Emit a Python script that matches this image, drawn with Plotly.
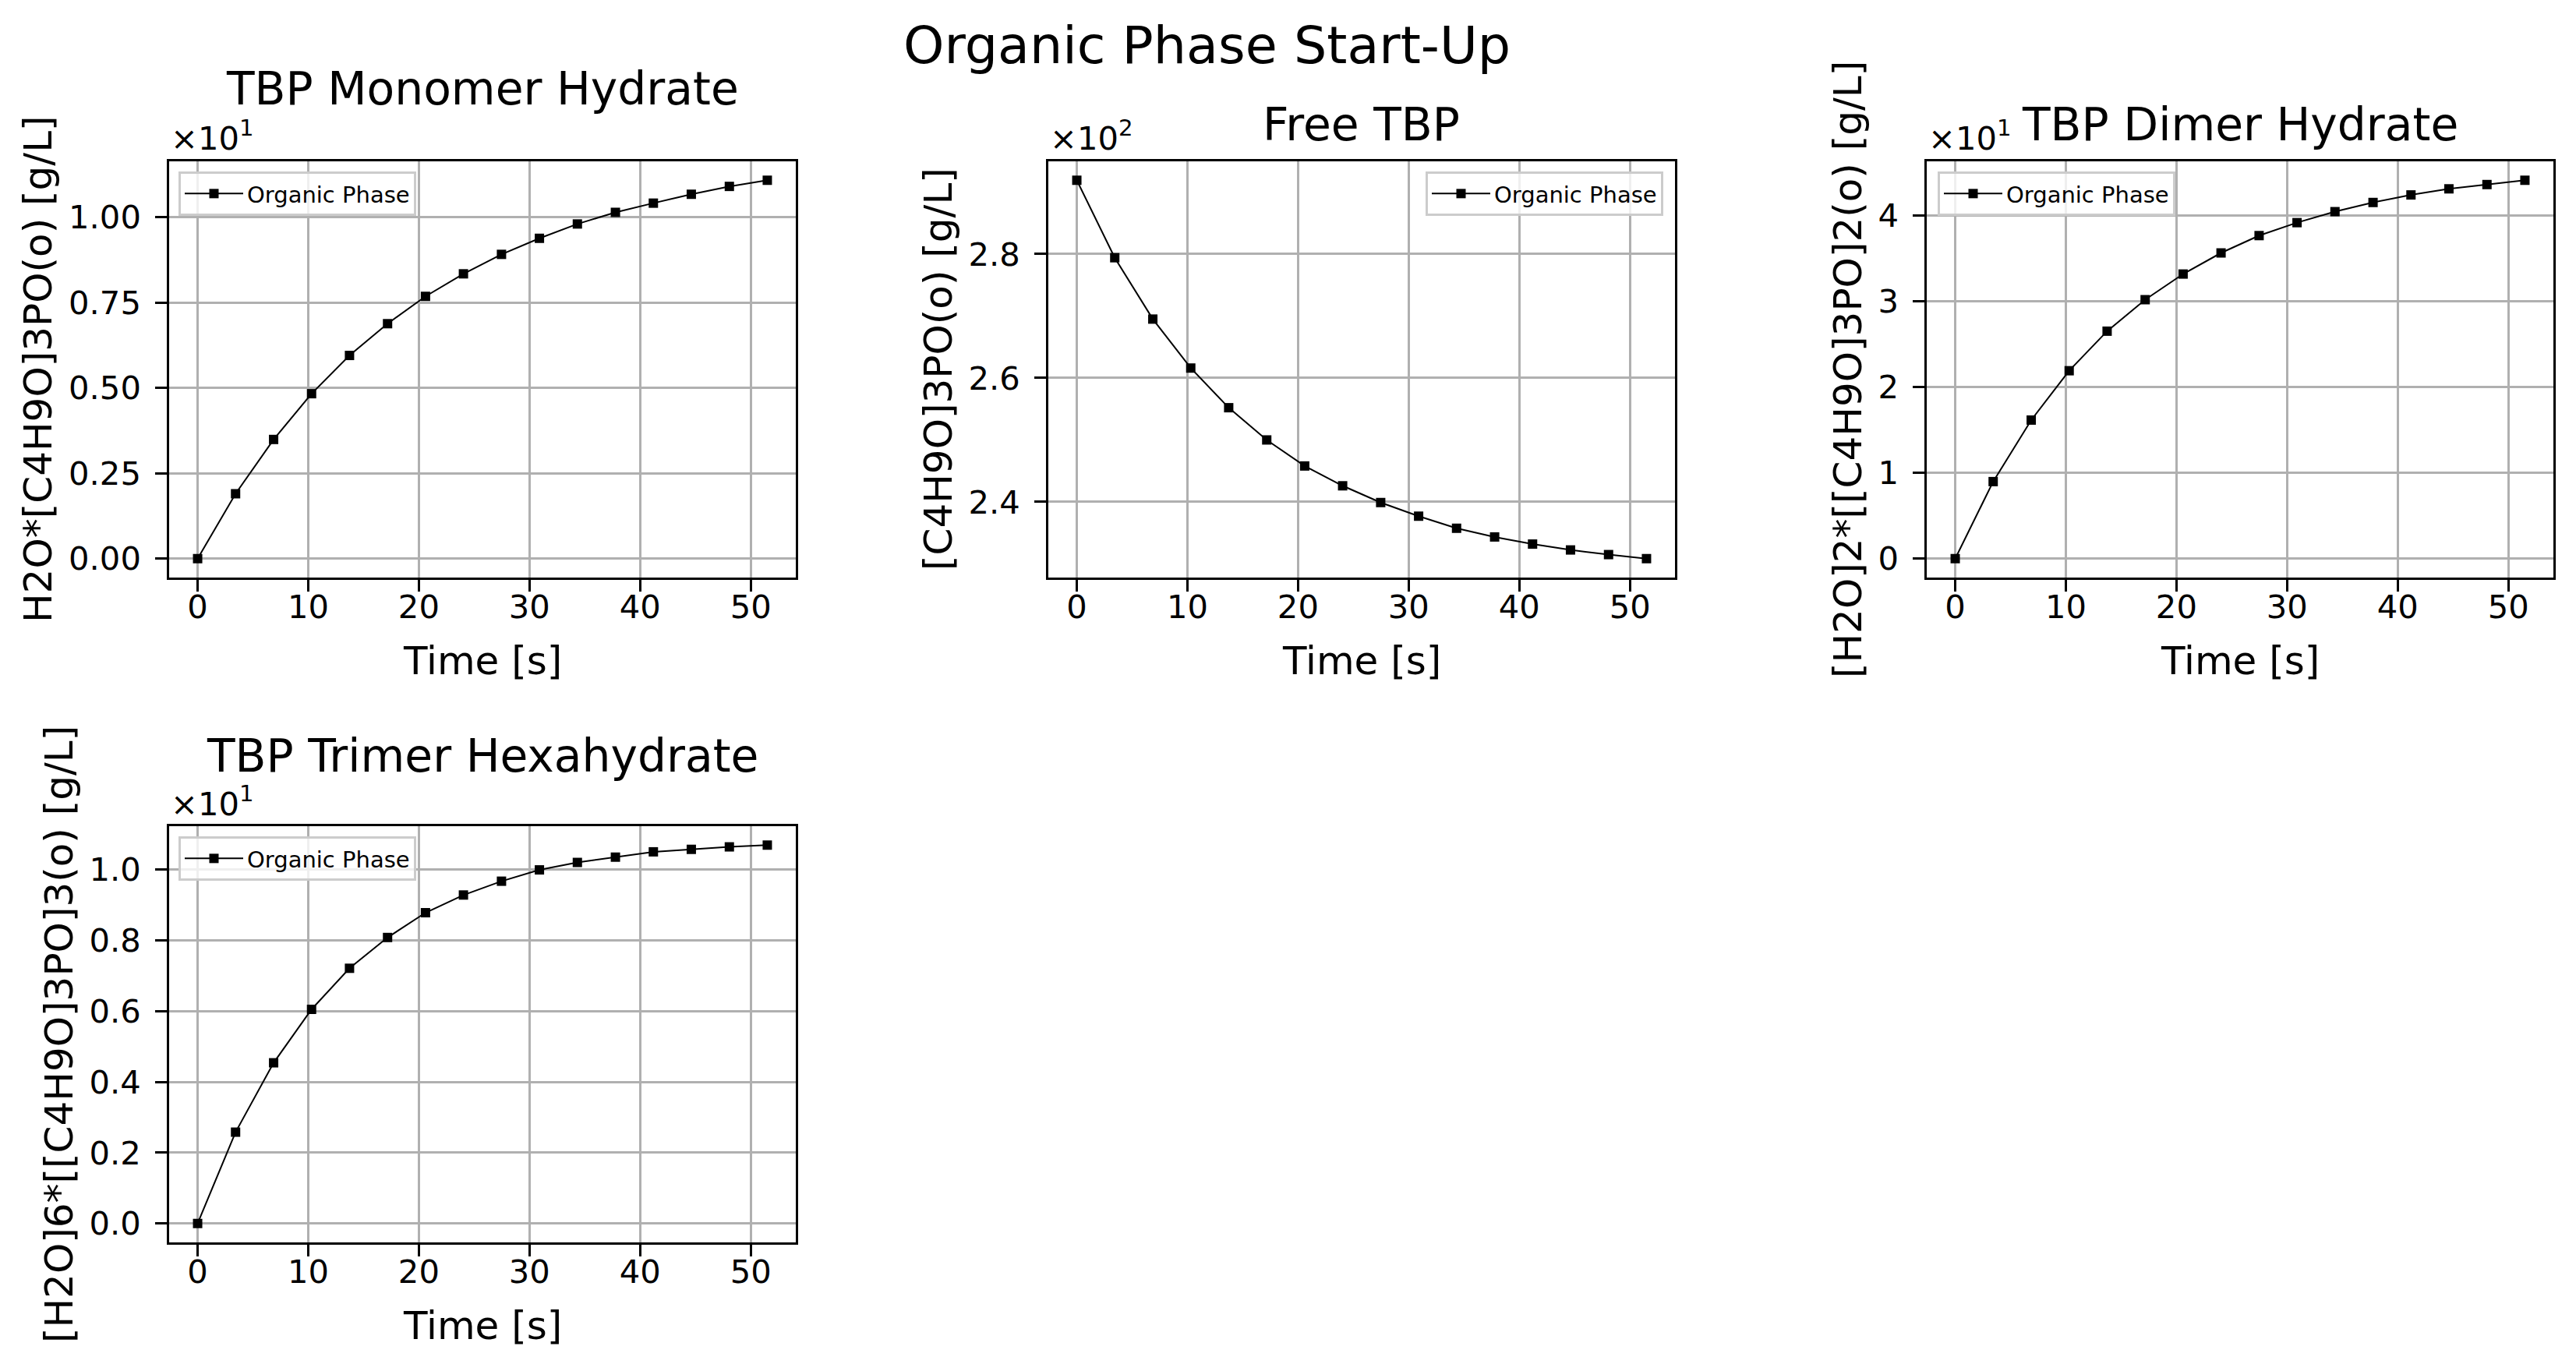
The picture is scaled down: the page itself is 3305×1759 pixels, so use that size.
import plotly.graph_objects as go

W, H = 3305, 1759

# ---------------- data ----------------
time_s = [0.0, 3.43, 6.87, 10.3, 13.73, 17.17, 20.6, 24.03, 27.47, 30.9,
          34.33, 37.77, 41.2, 44.63, 48.07, 51.5]

monomer = [0.0, 1.90, 3.49, 4.83, 5.95, 6.88, 7.68, 8.34, 8.91, 9.38,
           9.80, 10.14, 10.41, 10.67, 10.90, 11.08]
free_tbp = [291.9, 279.4, 269.5, 261.6, 255.2, 250.0, 245.8, 242.6, 239.9, 237.7,
            235.75, 234.35, 233.2, 232.25, 231.5, 230.85]
dimer = [0.0, 8.98, 16.15, 21.90, 26.51, 30.18, 33.17, 35.63, 37.65, 39.16,
         40.44, 41.51, 42.39, 43.10, 43.60, 44.10]
trimer = [0.0, 2.58, 4.54, 6.05, 7.21, 8.08, 8.78, 9.28, 9.67, 9.99,
          10.20, 10.35, 10.50, 10.57, 10.64, 10.69]

series = [monomer, free_tbp, dimer, trimer]
titles = ["TBP Monomer Hydrate", "Free TBP", "TBP Dimer Hydrate", "TBP Trimer Hexahydrate"]
ylabels = ["H2O*[C4H9O]3PO(o) [g/L]", "[C4H9O]3PO(o) [g/L]",
           "[H2O]2*[[C4H9O]3PO]2(o) [g/L]", "[H2O]6*[[C4H9O]3PO]3(o) [g/L]"]
offset_texts = ["×10<sup>1</sup>", "×10<sup>2</sup>", "×10<sup>1</sup>", "×10<sup>1</sup>"]
scale_factors = [10, 100, 10, 10]
ytick_labels = [["0.00", "0.25", "0.50", "0.75", "1.00"],
                ["2.4", "2.6", "2.8"],
                ["0", "1", "2", "3", "4"],
                ["0.0", "0.2", "0.4", "0.6", "0.8", "1.0"]]
xtick_vals = [0, 10, 20, 30, 40, 50]
xtick_labels = ["0", "10", "20", "30", "40", "50"]
legend_label = "Organic Phase"
xlabel = "Time [s]"
suptitle = "Organic Phase Start-Up"

# ---------------- layout geometry (pixels) ----------------
FONT = "DejaVu Sans"
axes_px = [  # left, right, top, bottom
    (217, 1021, 207, 741),
    (1345, 2149, 207, 741),
    (2472, 3276, 207, 741),
    (217, 1021, 1060, 1594),
]
title_baseline = [135, 181, 181, 991]
offset_baseline = [193, 193, 193, 1047]
ylabel_cx = [49, 1204, 2371, 76]
legend_pos = [("left", 229), ("right", 2134), ("left", 2486), ("left", 229)]

def px_x(x):
    return x / W

def px_y(y):
    return 1 - y / H

def mrange(vals):
    lo, hi = min(vals), max(vals)
    pad = 0.05 * (hi - lo)
    return [lo - pad, hi + pad]

fig = go.Figure()
layout = dict(
    width=W, height=H,
    margin=dict(l=0, r=0, t=0, b=0),
    paper_bgcolor="white", plot_bgcolor="white",
    font=dict(family=FONT, color="black"),
    annotations=[],
)

TICK = 41.7
axis_common = dict(
    showline=True, linecolor="black", linewidth=3.3, mirror=True,
    ticks="outside", ticklen=14.6, tickwidth=3.3, tickcolor="black",
    showgrid=True, gridcolor="#b0b0b0", gridwidth=3.3,
    zeroline=False, tickfont=dict(family=FONT, size=TICK, color="black"),
)

for i, vals in enumerate(series):
    n = i + 1
    xa = "x" if n == 1 else f"x{n}"
    ya = "y" if n == 1 else f"y{n}"
    lg = "legend" if n == 1 else f"legend{n}"
    l, r, t, b = axes_px[i]
    fig.add_trace(go.Scatter(
        x=time_s, y=vals, mode="lines+markers", name=legend_label,
        line=dict(color="black", width=2),
        marker=dict(symbol="square", size=12, color="black"),
        xaxis=xa, yaxis=ya, legend=lg, showlegend=True,
    ))
    tv = [float(s) * scale_factors[i] for s in ytick_labels[i]]
    layout["xaxis" if n == 1 else f"xaxis{n}"] = dict(
        axis_common, domain=[px_x(l), px_x(r)], anchor=ya,
        range=mrange(time_s), tickvals=xtick_vals, ticktext=xtick_labels,
        ticklabelstandoff=-16,
    )
    layout["yaxis" if n == 1 else f"yaxis{n}"] = dict(
        axis_common, domain=[px_y(b), px_y(t)], anchor=xa,
        range=mrange(vals), tickvals=tv, ticktext=ytick_labels[i],
        ticklabelstandoff=10,
    )
    side, lx = legend_pos[i]
    layout[lg] = dict(
        x=px_x(lx), y=px_y(t + 13), xanchor=side, yanchor="top",
        bgcolor="rgba(255,255,255,0.8)", bordercolor="#cccccc", borderwidth=3,
        itemwidth=75,
        font=dict(family=FONT, size=29, color="black"),
    )
    # subplot title
    layout["annotations"].append(dict(
        text=titles[i], xref="paper", yref="paper",
        x=px_x((l + r) / 2), y=px_y(title_baseline[i] + 0.236 * 58.3 + 1),
        xanchor="center", yanchor="bottom", showarrow=False,
        font=dict(family=FONT, size=58.3, color="black"),
    ))
    # offset text
    layout["annotations"].append(dict(
        text=offset_texts[i], xref="paper", yref="paper",
        x=px_x(l), y=px_y(offset_baseline[i] + 0.236 * TICK + 1),
        xanchor="left", yanchor="bottom", showarrow=False,
        font=dict(family=FONT, size=TICK, color="black"),
    ))
    # x label
    layout["annotations"].append(dict(
        text=xlabel, xref="paper", yref="paper",
        x=px_x((l + r) / 2), y=px_y(b + 125 + 0.236 * 50 + 1),
        xanchor="center", yanchor="bottom", showarrow=False,
        font=dict(family=FONT, size=50, color="black"),
    ))
    # y label
    layout["annotations"].append(dict(
        text=ylabels[i], xref="paper", yref="paper",
        x=px_x(ylabel_cx[i]), y=px_y((t + b) / 2),
        xanchor="center", yanchor="middle", textangle=-90, showarrow=False,
        font=dict(family=FONT, size=50, color="black"),
    ))

layout["annotations"].append(dict(
    text=suptitle, xref="paper", yref="paper",
    x=px_x(1548), y=px_y(82 + 0.236 * 66.7 + 1),
    xanchor="center", yanchor="bottom", showarrow=False,
    font=dict(family=FONT, size=66.7, color="black"),
))

fig.update_layout(**layout)
fig.write_html("out.html")
